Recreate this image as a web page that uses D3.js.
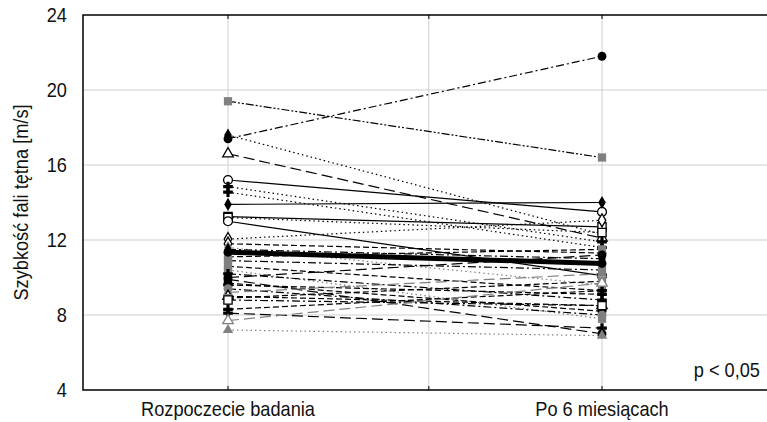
<!DOCTYPE html>
<html>
<head>
<meta charset="utf-8">
<script src="https://cdn.jsdelivr.net/npm/d3@7"></script>
<style>
  body { margin: 0; background: #fff; }
  text { font-family: "Liberation Sans", Arial, sans-serif; fill: #111; }
</style>
</head>
<body>
<svg></svg>
<script>
var categories = ["Rozpoczecie badania", "Po 6 miesiącach"];
var yTicks = [4, 8, 12, 16, 20, 24];
var xGrid = [0, 0.537, 1];

// one entry per patient: value at start, value after 6 months
var before = [19.4, 17.6, 17.4, 16.6, 15.2, 14.85, 14.55, 13.9, 13.25, 13.2, 13.0, 12.05, 11.8, 11.6,
  11.5, 11.1, 10.9, 10.6, 10.4, 10.2, 10.0, 9.9, 9.7, 9.6, 9.4, 9.2, 9.0, 8.9, 8.8, 8.3, 8.1, 7.7, 7.2];
var after = [16.4, 12.3, 21.8, 12.1, 13.5, 11.9, 11.6, 14.0, 12.7, 12.4, 10.1, 13.05, 11.3, 9.6,
  11.0, 11.5, 10.4, 9.3, 7.8, 8.8, 11.2, 7.0, 8.2, 9.1, 8.0, 10.2, 8.5, 9.8, 8.5, 9.3, 7.3, 9.7, 6.9];
var meanValues = [11.35, 10.75];

var markerShape = ["square", "diamond", "circle", "triangle", "circle", "cross", "cross", "diamond", "square", "square", "circle", "diamond", "diamond", "diamond",
  "diamond", "square", "square", "square", "square", "cross", "circle", "circle", "circle", "cross", "circle", "triangle", "triangle", "square", "square", "cross", "cross", "triangle", "triangle"];
var markerFill = ["g", "k", "k", "w", "w", "k", "k", "k", "w", "w", "w", "w", "w", "g",
  "k", "g", "g", "g", "g", "k", "k", "k", "k", "k", "g", "g", "w", "g", "w", "k", "k", "wg", "g"];
var lineStyle = ["dashdotdot", "dot", "dashdot", "longdash", "solid", "dot", "dot", "solid", "solid", "dot", "solid", "dot", "dash", "dot",
  "dashdot", "dash", "dashdot", "dash", "dot", "dashdot", "longdash", "longdash", "dash", "dash", "dashdot", "longdash", "dash", "dash", "dashdot", "dash", "longdash", "longdash", "dot"];
var lineTone = ["k", "k", "k", "k", "k", "k", "k", "k", "k", "k", "k", "k", "k", "g",
  "k", "k", "k", "k", "g", "k", "k", "k", "k", "k", "k", "g", "k", "k", "k", "k", "k", "g", "g"];

var w = 767, h = 422;
var mLeft = 83, mRight = 767, mTop = 15, mBottom = 390;
var gray = "#808080";
var fontSize = 20;
var squeeze = " scale(0.91,1)";   // the original uses a condensed face

var dashes = {
  solid: null,
  dot: "1.5,3",
  dash: "6,3",
  longdash: "11,5",
  dashdot: "8,3,2,3",
  dashdotdot: "8,2,2,2,2,2"
};
var symbols = {
  circle: [d3.symbolCircle, 62],
  square: [d3.symbolSquare, 68],
  diamond: [d3.symbolDiamond, 50],
  triangle: [d3.symbolTriangle, 48],
  cross: [d3.symbolCross, 52]
};

var svg = d3.select("svg").attr("width", w).attr("height", h);

var x = d3.scaleLinear().domain([0, 1]).range([228, 602]);
var y = d3.scaleLinear().domain([4, 24]).range([mBottom, mTop]);

// grid
svg.append("g").selectAll("line").data(yTicks.slice(1, -1)).join("line")
  .attr("x1", mLeft).attr("x2", mRight)
  .attr("y1", function(d) { return y(d); }).attr("y2", function(d) { return y(d); })
  .attr("stroke", "#cfcfcf").attr("stroke-width", 1);
svg.append("g").selectAll("line").data(xGrid).join("line")
  .attr("x1", function(d) { return x(d); }).attr("x2", function(d) { return x(d); })
  .attr("y1", mTop).attr("y2", mBottom)
  .attr("stroke", "#cfcfcf").attr("stroke-width", 1);

// patient lines
var idx = d3.range(before.length);
svg.append("g").selectAll("line").data(idx).join("line")
  .attr("x1", x(0)).attr("x2", x(1))
  .attr("y1", function(i) { return y(before[i]); })
  .attr("y2", function(i) { return y(after[i]); })
  .attr("stroke", function(i) { return lineTone[i] == "g" ? gray : "#000"; })
  .attr("stroke-width", 1.2)
  .attr("stroke-dasharray", function(i) { return dashes[lineStyle[i]]; })
  .attr("fill", "none");

// mean line
svg.append("line")
  .attr("x1", x(0)).attr("x2", x(1))
  .attr("y1", y(meanValues[0])).attr("y2", y(meanValues[1]))
  .attr("stroke", "#000").attr("stroke-width", 5);

// markers at both ends
var pts = [];
idx.forEach(function(i) {
  pts.push({ t: 0, v: before[i], i: i });
  pts.push({ t: 1, v: after[i], i: i });
});
svg.append("g").selectAll("path").data(pts).join("path")
  .attr("transform", function(d) { return "translate(" + x(d.t) + "," + y(d.v) + ")"; })
  .attr("d", function(d) {
    var s = symbols[markerShape[d.i]];
    return d3.symbol().type(s[0]).size(s[1])();
  })
  .attr("fill", function(d) {
    var f = markerFill[d.i];
    return f == "k" ? "#000" : f == "g" ? gray : "#fff";
  })
  .attr("stroke", function(d) {
    var f = markerFill[d.i];
    return f == "w" ? "#000" : f == "wg" ? gray : "none";
  })
  .attr("stroke-width", 1.3);

svg.selectAll(".mean").data(meanValues).join("circle")
  .attr("cx", function(d, i) { return x(i); })
  .attr("cy", function(d) { return y(d); })
  .attr("r", 4.5).attr("fill", "#000");

// frame: left, bottom, top
svg.append("path")
  .attr("d", "M" + mRight + "," + mTop + "H" + mLeft + "V" + mBottom + "H" + mRight)
  .attr("fill", "none").attr("stroke", "#000").attr("stroke-width", 1.5);
svg.append("g").selectAll("path").data(xGrid).join("path")
  .attr("d", function(d) {
    return "M" + x(d) + "," + mTop + "v4M" + x(d) + "," + mBottom + "v-4";
  })
  .attr("stroke", "#000").attr("stroke-width", 1);

// tick labels
svg.append("g").selectAll("text").data(yTicks).join("text")
  .attr("transform", function(d) { return "translate(67," + (y(d) + 7) + ")" + squeeze; })
  .attr("text-anchor", "end").attr("font-size", fontSize)
  .text(function(d) { return d; });
svg.append("g").selectAll("text").data(categories).join("text")
  .attr("transform", function(d, i) { return "translate(" + x(i) + ",416)" + squeeze; })
  .attr("text-anchor", "middle").attr("font-size", fontSize)
  .text(function(d) { return d; });

svg.append("text")
  .attr("transform", "translate(28," + ((mTop + mBottom) / 2) + ") rotate(-90)" + squeeze)
  .attr("text-anchor", "middle").attr("font-size", fontSize)
  .text("Szybkość fali tętna [m/s]");

svg.append("text")
  .attr("transform", "translate(760,377)" + squeeze)
  .attr("text-anchor", "end").attr("font-size", fontSize)
  .text("p < 0,05");
</script>
</body>
</html>
